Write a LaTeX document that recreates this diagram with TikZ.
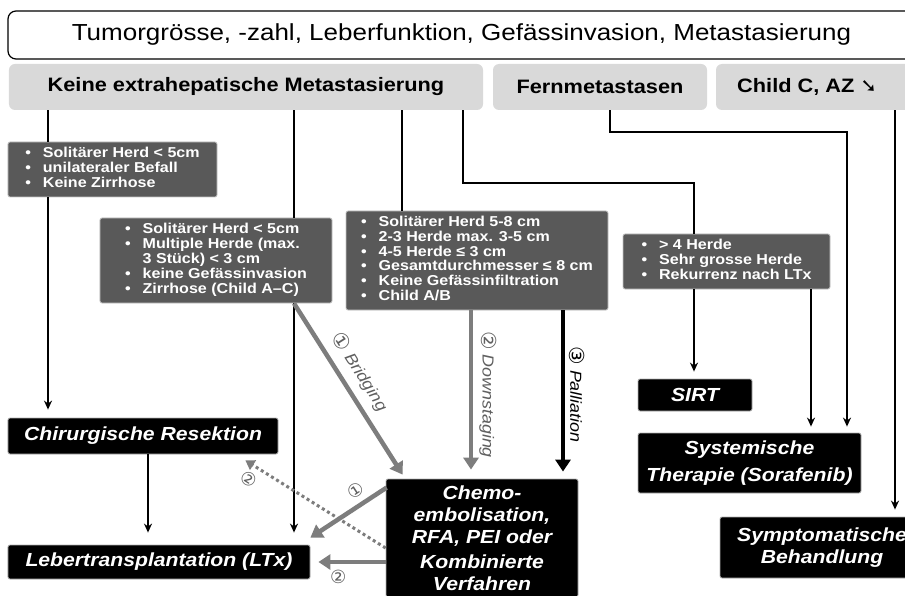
\documentclass[tikz,border=0pt]{standalone}
\usepackage{graphicx}
\usepackage{fontspec}
\setmainfont{Liberation Sans}[FakeStretch=1.12]
\newfontfamily\zeichenfont{DejaVu Sans}
\usetikzlibrary{arrows.meta,calc}
\definecolor{rowgray}{RGB}{217,217,217}
\definecolor{boxgray}{RGB}{89,89,89}
\definecolor{arrgray}{RGB}{125,125,125}
\definecolor{lblgray}{RGB}{95,95,95}
\newcommand{\kreis}[1]{\raisebox{-0.15ex}{\scalebox{1.3}{\zeichenfont #1}}}
\newcommand{\pkt}{\textbullet}

\begin{document}
\begin{tikzpicture}[x=1bp, y=-1bp,
    rowbox/.style={fill=rowgray, rounded corners=6bp, minimum height=46bp, inner sep=0pt,
        font=\fontsize{19.5}{23}\selectfont\bfseries},
    critbox/.style={fill=boxgray, draw=gray!45, line width=0.8bp, rounded corners=2bp, text=white,
        inner sep=0pt, font=\fontsize{14.4}{14.7}\selectfont\bfseries},
    therapy/.style={fill=black, draw=gray!60, line width=0.8bp, rounded corners=2bp, text=white,
        align=center, inner sep=0pt, font=\fontsize{19}{22}\selectfont\bfseries\itshape},
    conn/.style={line width=1.8bp},
    arr/.style={conn, -{Stealth[length=9bp,width=8bp]}},
    grayarr/.style={draw=arrgray, line width=4.5bp, -{Triangle[length=12bp,width=15bp]}},
    lbl/.style={font=\fontsize{16}{16}\selectfont\itshape, text=lblgray, inner sep=1bp},
    nummer/.style={font=\fontsize{14}{14}\selectfont, text=lblgray, inner sep=1bp}
]
    % Rahmen
    \fill[white] (0,0) rectangle (905,596);
    \useasboundingbox (0,0) rectangle (905,596);
    % Kopfzeile
    \node[draw, line width=1.2bp, rounded corners=8bp, minimum width=907bp, minimum height=48bp,
        font=\fontsize{23.3}{28}\selectfont] (kopf) at (461.5,35)
        {Tumorgrösse, -zahl, Leberfunktion, Gefässinvasion, Metastasierung};
    \node[rowbox, minimum width=474bp] (keine) at (246,87) {Keine extrahepatische Metastasierung};
    \node[rowbox, minimum width=214bp] (fern) at (600,87) {Fernmetastasen};
    \node[rowbox, minimum width=210bp] (child) at (821,87) {Child C, AZ {\zeichenfont\bfseries ➘}\hspace*{28bp}};
    % Kriterien
    \node[critbox, minimum width=209bp, minimum height=55bp] (db1) at (112.5,169.5)
        {\begin{tabular}{@{}l@{\hspace{12bp}}l@{}}
        \pkt & Solitärer Herd < 5cm\\
        \pkt & unilateraler Befall\\
        \pkt & Keine Zirrhose
        \end{tabular}};
    \node[critbox, minimum width=232bp, minimum height=85bp] (db2) at (216,260.5)
        {\begin{tabular}{@{}l@{\hspace{12bp}}l@{}}
        \pkt & Solitärer Herd < 5cm\\
        \pkt & Multiple Herde (max.\\
             & 3 Stück) < 3 cm\\
        \pkt & keine Gefässinvasion\\
        \pkt & Zirrhose (Child A–C)
        \end{tabular}};
    \node[critbox, minimum width=262bp, minimum height=99bp] (db3) at (477,260.5)
        {\begin{tabular}{@{}l@{\hspace{12bp}}l@{}}
        \pkt & Solitärer Herd 5-8 cm\\
        \pkt & 2-3 Herde max. 3-5 cm\\
        \pkt & 4-5 Herde ≤ 3 cm\\
        \pkt & Gesamtdurchmesser ≤ 8 cm\\
        \pkt & Keine Gefässinfiltration\\
        \pkt & Child A/B
        \end{tabular}};
    \node[critbox, minimum width=207bp, minimum height=55bp] (db4) at (726.5,261.5)
        {\begin{tabular}{@{}l@{\hspace{12bp}}l@{}}
        \pkt & > 4 Herde\\
        \pkt & Sehr grosse Herde\\
        \pkt & Rekurrenz nach LTx
        \end{tabular}};
    % Therapien
    \node[therapy, minimum width=270bp, minimum height=36bp] (chir) at (143,436) {Chirurgische Resektion};
    \node[therapy, minimum width=302bp, minimum height=34bp] (ltx) at (159,562) {Lebertransplantation (LTx)};
    \node[therapy, minimum width=192bp, minimum height=118bp] (chemo) at (482,538)
        {Chemo-\\embolisation,\\RFA, PEI oder\\[3bp]Kombinierte\\Verfahren};
    \node[therapy, minimum width=114bp, minimum height=32bp] (sirt) at (695,395) {SIRT};
    \node[therapy, minimum width=223bp, minimum height=60bp] (syst) at (749.5,463)
        {Systemische\\[5bp]Therapie (Sorafenib)};
    \node[therapy, minimum width=204bp, minimum height=61bp] (sympt) at (822,547.5)
        {Symptomatische\\Behandlung};
    % Spalten der Verbindungen
    \coordinate (xa) at (48,0);
    \coordinate (xb) at (294,0);
    \coordinate (xc) at (402,0);
    \coordinate (xd) at (463,0);
    \coordinate (xe) at (610,0);
    \coordinate (xf) at (694,0);
    \coordinate (xg) at (811,0);
    \coordinate (xh) at (847,0);
    \coordinate (xi) at (895,0);
    \coordinate (xj) at (471,0);
    \coordinate (xk) at (563,0);
    % Verbindungen
    \draw[conn] (keine.south -| xa) -- (db1.north -| xa);
    \draw[arr, shorten >=8bp] (db1.south -| xa) -- (chir.north -| xa);
    \draw[arr, shorten >=12bp] ($(chir.south)+(5,0)$) -- ($(chir.south |- ltx.north)+(5,0)$);
    \draw[conn] (keine.south -| xb) -- (db2.north -| xb);
    \draw[arr, shorten >=12bp] (db2.south -| xb) -- (ltx.north -| xb);
    \draw[conn] (keine.south -| xc) -- (db3.north -| xc);
    \draw[conn] (keine.south -| xd) -- ++(0,73) -| (db4.north -| xf);
    \draw[arr, shorten >=7bp] (db4.south -| xf) -- (sirt.north -| xf);
    \draw[arr, shorten >=6bp] (db4.south -| xg) -- (syst.north -| xg);
    \draw[arr, shorten >=6bp] (fern.south -| xe) -- ++(0,22) -| (syst.north -| xh);
    \draw[arr, shorten >=7bp] (child.south -| xi) -- (sympt.north -| xi);
    % Wege
    \draw[grayarr] (db2.south -| xb) -- ($(chemo.north west)+(17,-4)$)
        node[lbl, sloped, above=7bp, pos=0.46] {\kreis{①} Bridging};
    \draw[grayarr, shorten >=9bp] (db3.south -| xj) -- (chemo.north -| xj)
        node[lbl, sloped, above=5bp, pos=0.5] {\kreis{②} Downstaging};
    \draw[line width=4bp, -{Triangle[length=12bp,width=15bp]}, shorten >=7bp] (db3.south -| xk) -- (chemo.north -| xk)
        node[lbl, text=black, sloped, above=3bp, pos=0.5] {\kreis{③} Palliation};
    \draw[grayarr] ($(chemo.north west)+(1,9)$) -- ($(ltx.north east)+(0,-7)$)
        node[nummer, sloped, above=5bp, pos=0.3] {\kreis{①}};
    \draw[draw=arrgray, line width=3bp, dash pattern=on 3bp off 3bp, -{Triangle[length=9bp,width=11bp]}]
        ($(chemo.west)+(0,10)$) -- ($(chir.south east)+(-33,6)$)
        node[nummer, sloped, below=5bp, pos=0.92] {\kreis{②}};
    \draw[grayarr, shorten >=8bp] (chemo.west |- ltx.east) -- (ltx.east)
        node[nummer, below=5bp, pos=0.63] {\kreis{②}};
\end{tikzpicture}
\end{document}
